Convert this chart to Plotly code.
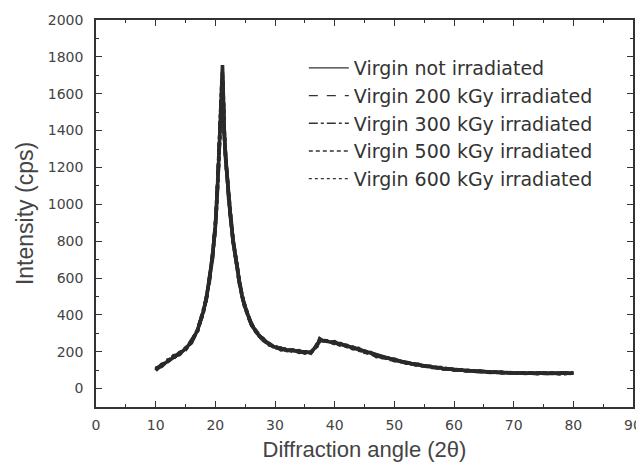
import plotly.graph_objects as go

angle = [10, 11, 12, 13, 14, 15, 16, 17, 18, 18.5, 19, 19.5, 20, 20.25, 20.5, 20.75, 21,
         21.1, 21.2, 21.3, 21.4, 21.5, 21.75, 22, 22.25, 22.5, 23, 23.5, 24, 24.5, 25,
         26, 27, 28, 29, 30, 31, 32, 33, 34, 35, 36, 36.5, 37, 37.5,
         38, 39, 40, 41, 42, 43, 44, 45, 46, 47, 48, 49, 50,
         52, 54, 56, 58, 60, 62, 64, 66, 68, 70, 72, 74, 76, 78, 80]

virgin_0 = [105, 125, 148, 170, 190, 215, 255, 315, 420, 490, 590, 710, 880, 1010, 1180, 1380, 1600,
            1690, 1755, 1640, 1500, 1390, 1240, 1140, 1030, 945, 795, 685, 585, 500, 440,
            350, 300, 265, 240, 225, 215, 210, 205, 200, 198, 196, 212, 232, 265,
            262, 255, 248, 240, 232, 222, 212, 200, 190, 180, 172, 163, 155,
            140, 128, 118, 110, 103, 98, 94, 90, 87, 85, 84, 83, 83, 83, 84]
virgin_200 = [98, 132, 142, 178, 184, 222, 248, 322, 410, 498, 580, 720, 870, 1020, 1170, 1390, 1580,
              1660, 1700, 1620, 1480, 1400, 1230, 1150, 1020, 955, 785, 695, 575, 510, 432,
              358, 292, 272, 234, 230, 210, 216, 200, 206, 192, 202, 206, 240, 258,
              270, 248, 254, 234, 238, 216, 218, 194, 196, 174, 178, 158, 160,
              136, 132, 114, 114, 100, 101, 92, 93, 85, 88, 82, 86, 80, 86, 81]
virgin_300 = [110, 120, 155, 165, 196, 210, 262, 310, 428, 485, 598, 700, 890, 1000, 1190, 1370, 1560,
              1640, 1680, 1600, 1460, 1380, 1250, 1130, 1040, 940, 805, 680, 592, 495, 446,
              345, 306, 260, 246, 220, 220, 206, 210, 196, 202, 192, 216, 228, 270,
              258, 260, 244, 244, 228, 226, 208, 204, 186, 184, 168, 166, 152,
              143, 125, 121, 107, 105, 96, 96, 88, 89, 83, 86, 81, 85, 80, 86]
virgin_500 = [102, 128, 146, 174, 188, 218, 252, 318, 415, 494, 586, 714, 876, 1015, 1175, 1385, 1590,
              1670, 1720, 1630, 1490, 1395, 1235, 1145, 1025, 950, 790, 690, 580, 505, 436,
              354, 296, 268, 237, 228, 212, 213, 202, 203, 195, 199, 209, 236, 262,
              266, 252, 251, 237, 235, 219, 215, 197, 193, 177, 175, 160, 157,
              138, 130, 116, 112, 102, 100, 93, 91, 86, 86, 83, 84, 82, 84, 83]
virgin_600 = [108, 122, 152, 168, 193, 212, 258, 312, 425, 488, 594, 705, 885, 1005, 1185, 1375, 1570,
              1650, 1690, 1610, 1470, 1385, 1245, 1135, 1035, 942, 800, 682, 588, 498, 443,
              348, 303, 262, 243, 222, 218, 208, 208, 198, 200, 194, 214, 230, 268,
              260, 258, 246, 242, 230, 224, 210, 202, 188, 182, 170, 165, 153,
              142, 126, 120, 108, 104, 97, 95, 89, 88, 84, 85, 82, 84, 81, 85]

series_names = ["Virgin not irradiated", "Virgin 200 kGy irradiated", "Virgin 300 kGy irradiated",
                "Virgin 500 kGy irradiated", "Virgin 600 kGy irradiated"]
series_values = [virgin_0, virgin_200, virgin_300, virgin_500, virgin_600]
dashes = ["solid", "dash", "dashdot", "4px,3px", "dot"]

x_ticks = [0, 10, 20, 30, 40, 50, 60, 70, 80, 90]
y_ticks = [0, 200, 400, 600, 800, 1000, 1200, 1400, 1600, 1800, 2000]

fig = go.Figure()
for i, (name, vals, d) in enumerate(zip(series_names, series_values, dashes)):
    fig.add_trace(go.Scatter(x=angle, y=vals, mode="lines", name=name, legendgroup=f"g{i}",
                             showlegend=False,
                             line=dict(color="#2a2a2a", width=3.6, dash=d)))
# thin legend samples (as in the original legend)
for i, (name, d) in enumerate(zip(series_names, dashes)):
    fig.add_trace(go.Scatter(x=[None], y=[None], mode="lines", name=name, legendgroup=f"g{i}",
                             line=dict(color="#333", width=1.4, dash=d)))

font_family = "Liberation Sans, Arial, sans-serif"
wide_family = "DejaVu Sans, Liberation Sans, sans-serif"
axis_common = dict(showline=True, linecolor="#333", linewidth=1.5, mirror="ticks",
                   ticks="inside", ticklen=6, tickwidth=1.2, tickcolor="#333",
                   showgrid=False, zeroline=False, automargin=False,
                   tickfont=dict(family=wide_family, size=14, color="#444"))

fig.update_xaxes(range=[0, 90], tickvals=x_ticks, title=dict(text="Diffraction angle (2θ)",
                 font=dict(family=font_family, size=22, color="#444"), standoff=10),
                 minor=dict(ticks="inside", ticklen=3, dtick=5, tickcolor="#333"),
                 ticklabelstandoff=4, **axis_common)
fig.update_yaxes(range=[-100, 2000], tickvals=y_ticks, title=dict(text="Intensity (cps)",
                 font=dict(family=font_family, size=23, color="#444"), standoff=8),
                 minor=dict(ticks="inside", ticklen=3, dtick=100, tickcolor="#333"),
                 ticklabelstandoff=8, **axis_common)

fig.update_layout(
    width=636, height=454,
    margin=dict(l=88, r=11, t=12, b=55),
    paper_bgcolor="white", plot_bgcolor="white",
    showlegend=True,
    legend=dict(x=0.387, y=0.925, xanchor="left", yanchor="top",
                bgcolor="rgba(0,0,0,0)", borderwidth=0,
                font=dict(family=wide_family, size=19, color="#333"),
                tracegroupgap=0, itemwidth=40),
)

fig.write_html("out.html")
